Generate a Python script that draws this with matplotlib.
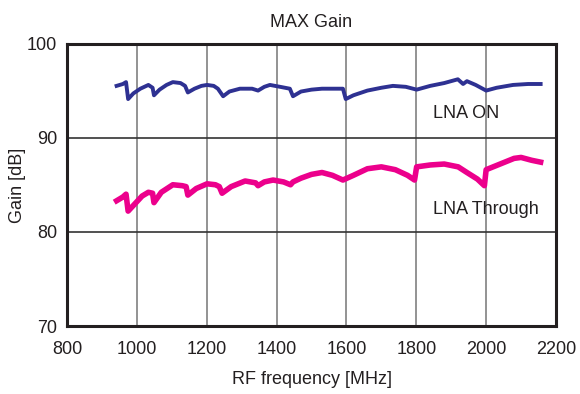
import matplotlib
matplotlib.use("Agg")
import matplotlib.pyplot as plt

plt.rcParams['font.family'] = ['Liberation Sans', 'DejaVu Sans']

# LNA ON curve (freq MHz, gain dB)
on_freq = [942, 960, 969, 975, 990, 1010, 1033, 1045, 1049, 1065, 1085, 1103,
           1125, 1138, 1146, 1165, 1185, 1201, 1220, 1232, 1247, 1265, 1295,
           1330, 1347, 1365, 1381, 1410, 1438, 1447, 1470, 1500, 1530, 1570,
           1590, 1598, 1620, 1660, 1700, 1733, 1770, 1801, 1840, 1880, 1919,
           1934, 1945, 1970, 2000, 2030, 2077, 2120, 2156]
on_gain = [95.5, 95.7, 95.9, 94.1, 94.7, 95.2, 95.6, 95.3, 94.5, 95.1, 95.6, 95.9,
           95.8, 95.5, 94.8, 95.2, 95.5, 95.6, 95.5, 95.2, 94.4, 94.9, 95.2,
           95.2, 95.0, 95.4, 95.6, 95.4, 95.2, 94.4, 94.9, 95.1, 95.2, 95.2,
           95.2, 94.1, 94.5, 95.0, 95.3, 95.5, 95.4, 95.1, 95.5, 95.8, 96.2,
           95.7, 96.0, 95.6, 95.0, 95.3, 95.6, 95.7, 95.7]

# LNA Through curve
thr_freq = [942, 960, 969, 975, 995, 1015, 1033, 1045, 1049, 1070, 1103, 1130,
            1141, 1146, 1170, 1201, 1225, 1236, 1244, 1270, 1310, 1340, 1347,
            1365, 1390, 1420, 1440, 1447, 1470, 1500, 1530, 1560, 1590, 1620,
            1660, 1700, 1740, 1775, 1795, 1801, 1840, 1880, 1920, 1945, 1975,
            1995, 2000, 2040, 2080, 2100, 2130, 2156]
thr_gain = [83.3, 83.7, 84.0, 82.2, 83.0, 83.8, 84.2, 84.1, 83.1, 84.2, 85.0, 84.9,
            84.8, 83.9, 84.6, 85.1, 85.0, 84.8, 84.1, 84.8, 85.4, 85.2, 84.9,
            85.3, 85.5, 85.3, 85.0, 85.3, 85.7, 86.1, 86.3, 86.0, 85.5, 86.0,
            86.7, 86.9, 86.6, 86.0, 85.5, 86.9, 87.1, 87.2, 86.9, 86.3, 85.6,
            84.9, 86.6, 87.2, 87.8, 87.9, 87.6, 87.4]

xticks = [800, 1000, 1200, 1400, 1600, 1800, 2000, 2200]
yticks = [70, 80, 90, 100]

txt = '#231f20'
fs = 13

fig = plt.figure(figsize=(5.8, 3.94), dpi=100)
ax = fig.add_axes([67/580, 1-326/394, (556-67)/580, (326-43.5)/394])

for x in xticks[1:-1]:
    ax.axvline(x, color='#8a8a8a', lw=1.3, zorder=1)
for y in yticks[1:-1]:
    ax.axhline(y, color='#333333', lw=1.2, zorder=1)

ax.plot(on_freq, on_gain, color='#2e3192', lw=2.8, zorder=3)
ax.plot(thr_freq, thr_gain, color='#ec008c', lw=4, zorder=3)

ax.text(1848, 92.6, 'LNA ON', fontsize=fs, va='center', ha='left', color=txt)
ax.text(1848, 82.4, 'LNA Through', fontsize=fs, va='center', ha='left', color=txt)

ax.set_xlim(800, 2200)
ax.set_ylim(70, 100)
ax.set_xticks(xticks)
ax.set_yticks(yticks)
ax.tick_params(length=0, labelsize=fs, colors=txt)
ax.tick_params(axis='x', pad=11)
ax.tick_params(axis='y', pad=7)
for s in ax.spines.values():
    s.set_linewidth(2.2)
    s.set_color(txt)

ax.set_title('MAX Gain', fontsize=fs, pad=12, color=txt)
fig.text(311.5/580, 1-380/394, 'RF frequency [MHz]', fontsize=fs, color=txt,
         ha='center', va='center')
fig.text(17/580, 1-185/394, 'Gain [dB]', fontsize=fs, color=txt,
         ha='center', va='center', rotation=90)

fig.savefig('out.png', dpi=100)
